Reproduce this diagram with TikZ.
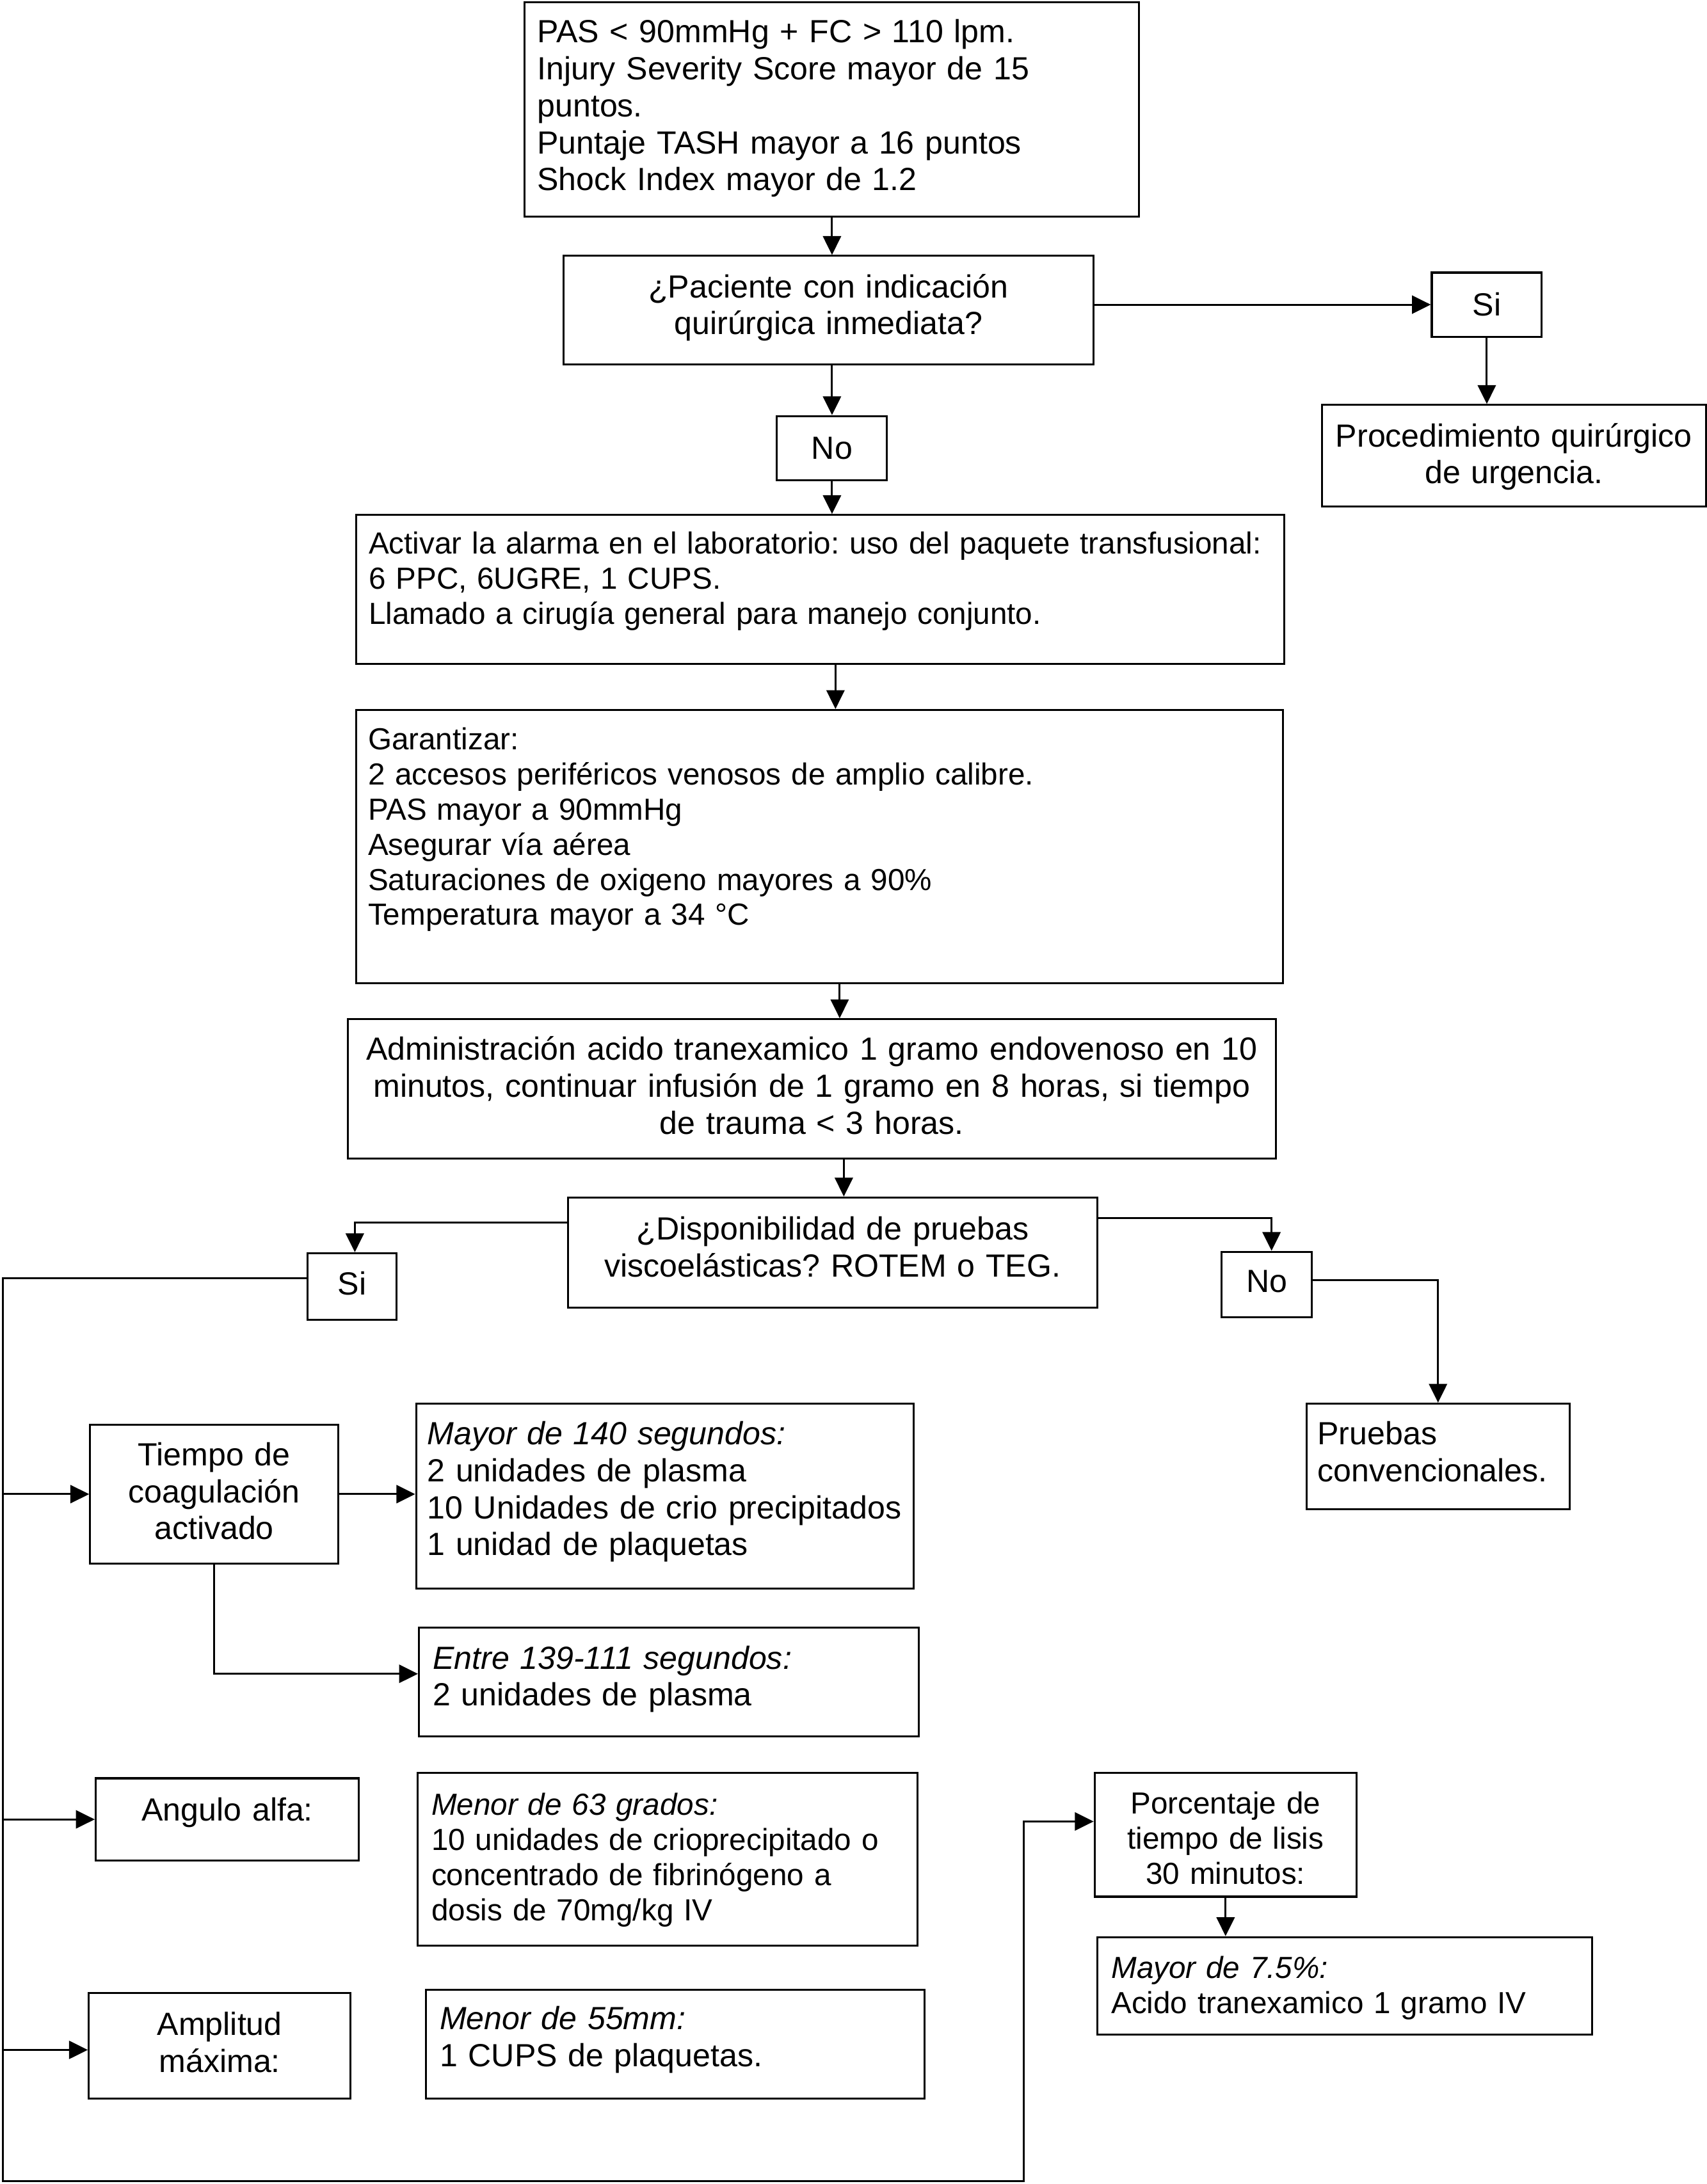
\documentclass[tikz,border=0pt]{standalone}
\usepackage{fontspec}
\setmainfont{Liberation Sans}
\usetikzlibrary{arrows.meta}
\frenchspacing
\tikzset{
  big/.style={font=\fontsize{13.1}{15.1}\selectfont},
  small/.style={font=\fontsize{12.45}{14.35}\selectfont},
  box/.style={draw, line width=0.8pt, inner ysep=0pt, anchor=north west},
  bx/.code n args={4}{%
    \pgfmathsetlengthmacro\bxtw{(#2-2*#1)*0.02cm}%
    \pgfmathsetlengthmacro\bxpad{#1*0.02cm}%
    \pgfmathsetlengthmacro\bxth{(#3)*0.02cm}%
    \pgfmathsetlengthmacro\bxtd{(#4)*0.02cm}%
    \edef\bxtmp{\noexpand\tikzset{text width=\bxtw,inner xsep=\bxpad,text height=\bxth,text depth=\bxtd}}\bxtmp
  },
  ln/.style={line width=0.8pt},
  arr/.style={line width=0.8pt, -{Triangle[length=0.27cm,width=0.26cm]}},
}
\begin{document}
\frenchspacing
\begin{tikzpicture}[x=0.02cm,y=-0.02cm]
\useasboundingbox (0,0) rectangle (1225,1568);

% ---------- boxes ----------
\node[box,big,align=left,bx={9}{817-376}{30-1}{155-30}] (b1) at (376,1)
  {PAS < 90mmHg + FC > 110 lpm.\\Injury Severity Score mayor de 15\\puntos.\\Puntaje TASH mayor a 16 puntos\\Shock Index mayor de 1.2};

\node[box,big,align=center,bx={10}{380}{213-183}{261-213}] (q1) at (404,183)
  {¿Paciente con indicación\\quirúrgica inmediata?};

\node[box,big,align=center,bx={4}{79}{31}{15}] (si1) at (1027,195) {Si};

\node[box,big,align=center,bx={6}{276}{320-290}{363-320}] (proc) at (948,290)
  {Procedimiento quirúrgico\\de urgencia.};

\node[box,big,align=center,bx={4}{79}{31}{15}] (no1) at (557,298) {No};

\node[box,small,align=left,bx={9}{666}{397-369}{476-397}] (act) at (255,369)
  {Activar la alarma en el laboratorio: uso del paquete transfusional:\\6 PPC, 6UGRE, 1 CUPS.\\Llamado a cirugía general para manejo conjunto.};

\node[box,small,align=left,bx={8.5}{665}{537.5-509}{705-537.5}] (gar) at (255,509)
  {Garantizar:\\2 accesos periféricos venosos de amplio calibre.\\PAS mayor a 90mmHg\\Asegurar vía aérea\\Saturaciones de oxigeno mayores a 90\%\\Temperatura mayor a 34 °C};

\node[box,big,align=center,bx={8}{666}{760.5-731}{831-760.5}] (adm) at (249,731)
  {Administración acido tranexamico 1 gramo endovenoso en 10\\minutos, continuar infusión de 1 gramo en 8 horas, si tiempo\\de trauma < 3 horas.};

\node[box,big,align=center,bx={10}{380}{889.5-859}{938-889.5}] (disp) at (407,859)
  {¿Disponibilidad de pruebas\\viscoelásticas? ROTEM o TEG.};

\node[box,big,align=center,bx={4}{64}{929-899}{947-929}] (si2) at (220,899) {Si};

\node[box,big,align=center,bx={4}{65}{927-898}{945-927}] (no2) at (876,898) {No};

\node[box,big,align=left,bx={8}{189}{1036.5-1007}{1083-1036.5}] (conv) at (937,1007)
  {Pruebas\\convencionales.};

\node[box,big,align=center,bx={6}{178}{1051.5-1022}{1122-1051.5}] (tca) at (64,1022)
  {Tiempo de\\coagulación\\activado};

\node[box,big,align=left,bx={8}{357}{1036.5-1007}{1140-1036.5}] (may140) at (298,1007)
  {\textit{Mayor de 140 segundos:}\\2 unidades de plasma\\10 Unidades de crio precipitados\\1 unidad de plaquetas};

\node[box,big,align=left,bx={10}{359}{1197.5-1168}{1246-1197.5}] (entre) at (300,1168)
  {\textit{Entre 139-111 segundos:}\\2 unidades de plasma};

\node[box,big,align=center,bx={6}{189}{1306.5-1276}{1335-1306.5}] (ang) at (68,1276)
  {Angulo alfa:};

\node[box,small,align=left,bx={10}{359}{1302.5-1272}{1396-1302.5}] (men63) at (299,1272)
  {\textit{Menor de 63 grados:}\\10 unidades de crioprecipitado o\\concentrado de fibrinógeno a\\dosis de 70mg/kg IV};

\node[box,big,align=center,bx={6}{188}{1460.5-1430}{1506-1460.5}] (amp) at (63,1430)
  {Amplitud\\máxima:};

\node[box,big,align=left,bx={10}{358}{1456.5-1428}{1506-1456.5}] (men55) at (305,1428)
  {\textit{Menor de 55mm:}\\1 CUPS de plaquetas.};

\node[box,small,align=center,bx={6}{188}{1301.5-1272}{1361-1301.5}] (porc) at (785,1272)
  {Porcentaje de\\tiempo de lisis\\30 minutos:};

\node[box,small,align=left,bx={10}{355}{1419.5-1390}{1460-1419.5}] (may75) at (787,1390)
  {\textit{Mayor de 7.5\%:}\\Acido tranexamico 1 gramo IV};

% ---------- trunk corners ----------
\coordinate (trunkbot) at (2,1566);
\coordinate (jx) at (735,1566);

% ---------- connectors ----------
\draw[arr] (b1.south) -- (b1.south |- q1.north);
\draw[arr] (q1.east |- si1.west) -- (si1.west);
\draw[arr] (si1.south) -- (si1.south |- proc.north);
\draw[arr] (no1.north |- q1.south) -- (no1.north);
\draw[arr] (no1.south) -- (no1.south |- act.north);
\draw[arr] ([xshift=0.22cm]act.south) -- ([xshift=0.22cm]act.south |- gar.north);
\draw[arr] ([xshift=0.29cm]gar.south) -- ([xshift=0.29cm]gar.south |- adm.north);
\draw[arr] ([xshift=0.46cm]adm.south) -- ([xshift=0.46cm]adm.south |- disp.north);
\draw[arr] ([yshift=0.43cm]disp.west) -| ([xshift=0.04cm]si2.north);
\draw[arr] ([yshift=0.49cm]disp.east) -| ([xshift=0.07cm]no2.north);
\draw[arr] ([yshift=0.06cm]no2.east) -| (conv.north);
\draw[arr] ([yshift=0.12cm]si2.west) -| (trunkbot) -- (jx) |- ([yshift=0.19cm]porc.west);
\draw[arr] (tca.west -| trunkbot) -- (tca.west);
\draw[arr] (ang.west -| trunkbot) -- (ang.west);
\draw[arr] ([yshift=-0.06cm]amp.west -| trunkbot) -- ([yshift=-0.06cm]amp.west);
\draw[arr] (tca.east) -- (tca.east -| may140.west);
\draw[arr] (tca.south) |- ([yshift=0.12cm]entre.west);
\draw[arr] (porc.south) -- (porc.south |- may75.north);
\end{tikzpicture}
\end{document}
